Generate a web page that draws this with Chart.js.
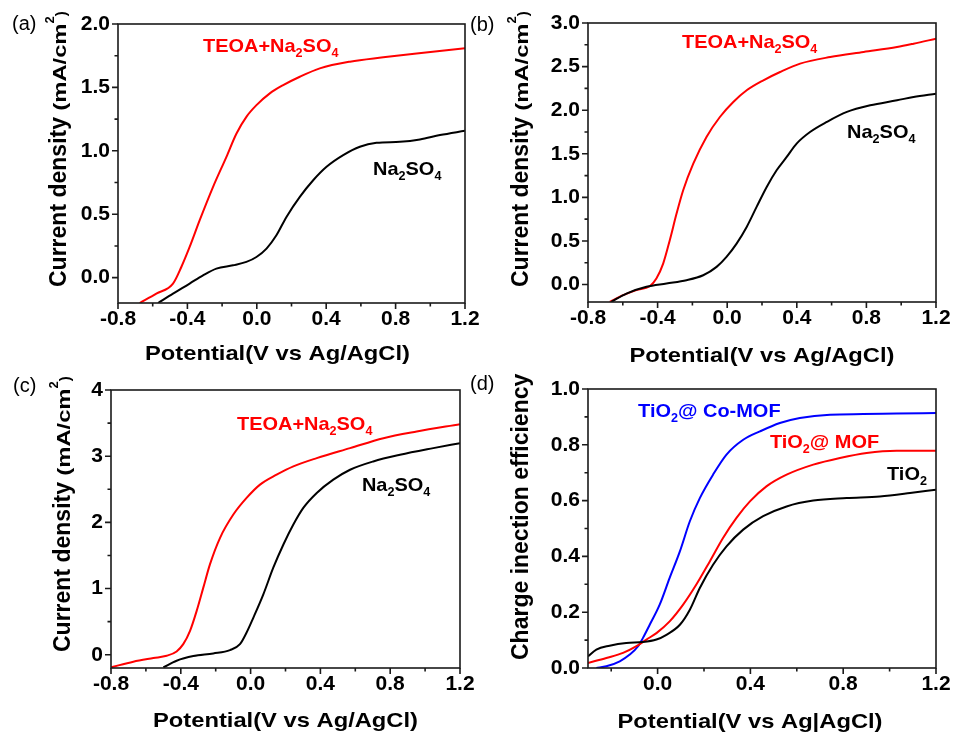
<!DOCTYPE html>
<html>
<head>
<meta charset="utf-8">
<script src="https://cdn.jsdelivr.net/npm/chart.js@4.4.0/dist/chart.umd.min.js"></script>
<style>
  body { margin: 0; background: #fff; }
  #wrap { position: relative; width: 955px; height: 735px; }
  #wrap canvas { position: absolute; left: 0; top: 0; }
</style>
</head>
<body>
<div id="wrap">
  <canvas id="pa" width="955" height="735"></canvas>
  <canvas id="pb" width="955" height="735"></canvas>
  <canvas id="pc" width="955" height="735"></canvas>
  <canvas id="pd" width="955" height="735"></canvas>
</div>
<script>
// (a) LSV, TEOA+Na2SO4 vs Na2SO4
const aRedX = [-0.675,-0.579,-0.483,-0.435,-0.387,-0.329,-0.252,-0.175,-0.117,-0.060,-0.002,0.075,0.152,0.248,0.363,0.537,0.729,0.921,1.2];
const aRedY = [-0.2,-0.126,-0.047,0.084,0.242,0.453,0.716,0.953,1.137,1.268,1.36,1.453,1.518,1.584,1.65,1.703,1.737,1.768,1.808];
const aBlkX = [-0.569,-0.483,-0.387,-0.310,-0.233,-0.137,-0.06,-0.002,0.056,0.113,0.171,0.248,0.325,0.402,0.498,0.594,0.690,0.825,0.940,1.056,1.2];
const aBlkY = [-0.2,-0.126,-0.047,0.018,0.071,0.097,0.124,0.163,0.229,0.334,0.479,0.637,0.768,0.874,0.966,1.032,1.063,1.071,1.089,1.124,1.158];
const aXTicks = [-0.8,-0.4,0,0.4,0.8,1.2];
const aYTicks = [0,0.5,1,1.5,2];

// (b)
const bRedX = [-0.675,-0.598,-0.522,-0.445,-0.407,-0.368,-0.330,-0.291,-0.253,-0.195,-0.119,-0.042,0.035,0.112,0.208,0.304,0.419,0.592,0.784,0.976,1.071,1.2];
const bRedY = [-0.198,-0.122,-0.064,-0.019,0.069,0.241,0.509,0.814,1.082,1.387,1.693,1.922,2.094,2.228,2.343,2.438,2.534,2.610,2.668,2.725,2.763,2.82];
const bBlkX = [-0.666,-0.579,-0.464,-0.349,-0.234,-0.138,-0.061,-0.004,0.054,0.112,0.169,0.227,0.284,0.342,0.399,0.476,0.572,0.688,0.822,0.976,1.071,1.2];
const bBlkY = [-0.198,-0.103,-0.026,0.012,0.050,0.107,0.203,0.318,0.470,0.661,0.891,1.120,1.311,1.464,1.617,1.750,1.865,1.980,2.056,2.113,2.152,2.19];
const bXTicks = [-0.8,-0.4,0,0.4,0.8,1.2];
const bYTicks = [0,0.5,1,1.5,2,2.5,3];

// (c)
const cRedX = [-0.8,-0.672,-0.557,-0.481,-0.424,-0.386,-0.347,-0.309,-0.271,-0.233,-0.175,-0.099,-0.023,0.054,0.149,0.245,0.379,0.570,0.761,0.952,1.2];
const cRedY = [-0.19,-0.105,-0.05,-0.015,0.05,0.16,0.361,0.663,1.014,1.365,1.767,2.118,2.369,2.570,2.720,2.846,2.971,3.122,3.272,3.373,3.483];
const cBlkX = [-0.5,-0.424,-0.328,-0.214,-0.118,-0.061,-0.023,0.016,0.073,0.130,0.188,0.245,0.302,0.379,0.474,0.570,0.703,0.856,1.047,1.2];
const cBlkY = [-0.19,-0.09,-0.02,0.02,0.07,0.16,0.336,0.562,0.913,1.315,1.666,1.967,2.218,2.444,2.645,2.795,2.921,3.021,3.122,3.197];
const cXTicks = [-0.8,-0.4,0,0.4,0.8,1.2];
const cYTicks = [0,1,2,3,4];

// (d) charge injection efficiency
const dBlueX = [-0.264,-0.221,-0.163,-0.120,-0.084,-0.063,-0.034,0.009,0.052,0.096,0.139,0.182,0.239,0.297,0.369,0.441,0.527,0.613,0.743,0.887,1.030,1.2];
const dBlueY = [0.0,0.006,0.024,0.048,0.078,0.108,0.155,0.227,0.323,0.418,0.526,0.609,0.693,0.765,0.818,0.848,0.878,0.896,0.908,0.910,0.912,0.914];
const dRedX = [-0.3,-0.221,-0.149,-0.091,-0.048,-0.005,0.052,0.110,0.167,0.225,0.282,0.340,0.398,0.469,0.556,0.671,0.786,0.901,1.030,1.2];
const dRedY = [0.018,0.036,0.054,0.078,0.102,0.125,0.167,0.227,0.299,0.382,0.466,0.538,0.597,0.651,0.693,0.729,0.753,0.771,0.779,0.779];
const dBlkX = [-0.3,-0.264,-0.207,-0.135,-0.063,-0.005,0.038,0.096,0.139,0.182,0.239,0.297,0.369,0.455,0.556,0.671,0.815,0.958,1.088,1.2];
const dBlkY = [0.042,0.066,0.080,0.090,0.093,0.102,0.119,0.155,0.209,0.287,0.370,0.436,0.496,0.544,0.579,0.600,0.609,0.615,0.627,0.639];
const dXTicks = [0,0.4,0.8,1.2];
const dYTicks = [0,0.2,0.4,0.6,0.8,1];

const FONT = '"Liberation Sans", Arial, sans-serif';
const RED = '#ff0000', BLUE = '#0000ff', BLACK = '#000000';

const zip = (xs, ys) => xs.map((x, i) => ({ x: x, y: ys[i] }));
const sub = t => ({ t: t, size: 12, dy: 5 });
const na2so4 = [{ t: 'Na', size: 19 }, sub('2'), { t: 'SO', size: 19 }, sub('4')];
const teoa = [{ t: 'TEOA+Na', size: 19 }, sub('2'), { t: 'SO', size: 19 }, sub('4')];
const jTitle = [{ t: 'Current density ', size: 23 }, { t: '(mA/cm', size: 19, sx: 1.25 }, { t: '2', size: 13, dy: -12 }, { t: ')', size: 15 }];

// text with sub/superscripts, optionally rotated
function drawRich(ctx, parts, x, y, o) {
  ctx.save();
  ctx.translate(x, y);
  if (o.rot) ctx.rotate(o.rot);
  ctx.scale(o.stretch || 1, 1);
  ctx.fillStyle = o.color || BLACK;
  ctx.textBaseline = 'alphabetic';
  ctx.textAlign = 'left';
  const fonts = parts.map(p => (o.weight || 'bold') + ' ' + p.size + 'px ' + FONT);
  const ws = parts.map((p, i) => { ctx.font = fonts[i]; return ctx.measureText(p.t).width * (p.sx || 1); });
  const total = ws.reduce((s, w) => s + w, 0);
  let cx = o.align === 'center' ? -total / 2 : 0;
  parts.forEach((p, i) => {
    ctx.font = fonts[i];
    ctx.save();
    ctx.translate(cx, p.dy || 0);
    ctx.scale(p.sx || 1, 1);
    ctx.fillText(p.t, 0, 0);
    ctx.restore();
    cx += ws[i];
  });
  ctx.restore();
}

function minorsOf(ticks, min, max) {
  const step = ticks[1] - ticks[0];
  const out = [];
  for (let v = ticks[0] - step / 2; v <= max + 1e-9; v += step) {
    if (v >= min - 1e-9) out.push(v);
  }
  return out;
}

// frame, outward ticks, titles and in-plot labels
const decor = {
  id: 'decor',
  afterDraw(chart, args, o) {
    const ctx = chart.ctx;
    const a = chart.chartArea;
    const xs = chart.scales.x, ys = chart.scales.y;
    ctx.save();
    ctx.strokeStyle = '#1a1a1a';
    ctx.lineWidth = 1.6;
    ctx.strokeRect(a.left, a.top, a.right - a.left, a.bottom - a.top);
    ctx.beginPath();
    o.xTicks.forEach(v => { const p = xs.getPixelForValue(v); ctx.moveTo(p, a.bottom); ctx.lineTo(p, a.bottom + 6); });
    minorsOf(o.xTicks, xs.min, xs.max).forEach(v => { const p = xs.getPixelForValue(v); ctx.moveTo(p, a.bottom); ctx.lineTo(p, a.bottom + 3.5); });
    o.yTicks.forEach(v => { const p = ys.getPixelForValue(v); ctx.moveTo(a.left, p); ctx.lineTo(a.left - 6, p); });
    minorsOf(o.yTicks, ys.min, ys.max).forEach(v => { const p = ys.getPixelForValue(v); ctx.moveTo(a.left, p); ctx.lineTo(a.left - 3.5, p); });
    ctx.stroke();
    ctx.restore();

    const cx = (a.left + a.right) / 2;
    drawRich(ctx, [{ t: o.xTitle, size: 21 }], cx + o.xTitleDx, a.bottom + o.xTitleDy, { align: 'center', stretch: 1.13 });
    drawRich(ctx, o.yTitle, a.left - o.yTitleDx, a.bottom - o.yTitleDy, { rot: -Math.PI / 2 });
    drawRich(ctx, [{ t: o.tag, size: 20 }], a.left + o.tagDx, a.top + o.tagDy, { weight: 'normal' });
    o.notes.forEach(n => {
      drawRich(ctx, n.parts, xs.getPixelForValue(n.x), ys.getPixelForValue(n.y), { color: n.color, stretch: 1.05 });
    });
  }
};

function makePanel(id, p) {
  const yW = 60, xH = 40;
  const tickFont = { family: FONT, size: 21, weight: 'bold' };
  new Chart(document.getElementById(id), {
    type: 'line',
    data: {
      datasets: p.series.map(s => ({
        data: zip(s.x, s.y),
        borderColor: s.color,
        borderWidth: 2,
        pointRadius: 0,
        cubicInterpolationMode: 'monotone',
        fill: false
      }))
    },
    options: {
      responsive: false,
      animation: false,
      events: [],
      layout: {
        padding: { left: p.area[0] - yW, top: p.area[1], right: 955 - p.area[2], bottom: 735 - p.area[3] - xH }
      },
      plugins: {
        legend: { display: false },
        tooltip: { enabled: false },
        decor: p.decor
      },
      scales: {
        x: {
          type: 'linear',
          min: p.xRange[0],
          max: p.xRange[1],
          grid: { display: false, drawTicks: false },
          border: { display: false },
          ticks: { font: tickFont, color: BLACK, padding: 4, maxRotation: 0, autoSkip: false, callback: v => v.toFixed(1) },
          afterBuildTicks: s => { s.ticks = p.decor.xTicks.map(v => ({ value: v })); },
          afterFit: s => { s.height = xH; s.paddingLeft = 0; s.paddingRight = 0; }
        },
        y: {
          type: 'linear',
          min: p.yRange[0],
          max: p.yRange[1],
          grid: { display: false, drawTicks: false },
          border: { display: false },
          ticks: { font: tickFont, color: BLACK, padding: 8, autoSkip: false, callback: v => v.toFixed(p.yDigits) },
          afterBuildTicks: s => { s.ticks = p.decor.yTicks.map(v => ({ value: v })); },
          afterFit: s => { s.width = yW; s.paddingTop = 0; s.paddingBottom = 0; }
        }
      }
    },
    plugins: [decor]
  });
}

makePanel('pa', {
  area: [118, 24, 465, 303],
  xRange: [-0.8, 1.2], yRange: [-0.2, 2.0], yDigits: 1,
  series: [{ x: aBlkX, y: aBlkY, color: BLACK }, { x: aRedX, y: aRedY, color: RED }],
  decor: {
    xTicks: aXTicks, yTicks: aYTicks,
    xTitle: 'Potential(V vs Ag/AgCl)', xTitleDx: -14, xTitleDy: 57,
    yTitle: jTitle, yTitleDx: 52, yTitleDy: 16,
    tag: '(a)', tagDx: -106, tagDy: 6,
    notes: [
      { parts: teoa, x: -0.31, y: 1.779, color: RED },
      { parts: na2so4, x: 0.67, y: 0.809, color: BLACK }
    ]
  }
});

makePanel('pb', {
  area: [588, 23, 936, 302],
  xRange: [-0.8, 1.2], yRange: [-0.2, 3.0], yDigits: 1,
  series: [{ x: bBlkX, y: bBlkY, color: BLACK }, { x: bRedX, y: bRedY, color: RED }],
  decor: {
    xTicks: bXTicks, yTicks: bYTicks,
    xTitle: 'Potential(V vs Ag/AgCl)', xTitleDx: 0, xTitleDy: 60,
    yTitle: jTitle, yTitleDx: 60, yTitleDy: 15,
    tag: '(b)', tagDx: -118, tagDy: 8,
    notes: [
      { parts: teoa, x: -0.26, y: 2.713, color: RED },
      { parts: na2so4, x: 0.689, y: 1.681, color: BLACK }
    ]
  }
});

makePanel('pc', {
  area: [111, 390, 460, 668],
  xRange: [-0.8, 1.2], yRange: [-0.2, 4.0], yDigits: 0,
  series: [{ x: cBlkX, y: cBlkY, color: BLACK }, { x: cRedX, y: cRedY, color: RED }],
  decor: {
    xTicks: cXTicks, yTicks: cYTicks,
    xTitle: 'Potential(V vs Ag/AgCl)', xTitleDx: 0, xTitleDy: 59,
    yTitle: jTitle, yTitleDx: 41, yTitleDy: 16,
    tag: '(c)', tagDx: -98, tagDy: 2,
    notes: [
      { parts: teoa, x: -0.078, y: 3.396, color: RED },
      { parts: na2so4, x: 0.638, y: 2.474, color: BLACK }
    ]
  }
});

makePanel('pd', {
  area: [588, 389, 936, 668],
  xRange: [-0.3, 1.2], yRange: [0, 1.0], yDigits: 1,
  series: [{ x: dBlkX, y: dBlkY, color: BLACK }, { x: dRedX, y: dRedY, color: RED }, { x: dBlueX, y: dBlueY, color: BLUE }],
  decor: {
    xTicks: dXTicks, yTicks: dYTicks,
    xTitle: 'Potential(V vs Ag|AgCl)', xTitleDx: -12, xTitleDy: 60,
    yTitle: [{ t: 'Charge inection efficiency', size: 23 }], yTitleDx: 60, yTitleDy: 8,
    tag: '(d)', tagDx: -118, tagDy: 1,
    notes: [
      { parts: [{ t: 'TiO', size: 19 }, sub('2'), { t: '@ Co-MOF', size: 19 }], x: -0.084, y: 0.9, color: BLUE },
      { parts: [{ t: 'TiO', size: 19 }, sub('2'), { t: '@ MOF', size: 19 }], x: 0.484, y: 0.789, color: RED },
      { parts: [{ t: 'TiO', size: 19 }, sub('2')], x: 0.989, y: 0.674, color: BLACK }
    ]
  }
});
</script>
</body>
</html>
